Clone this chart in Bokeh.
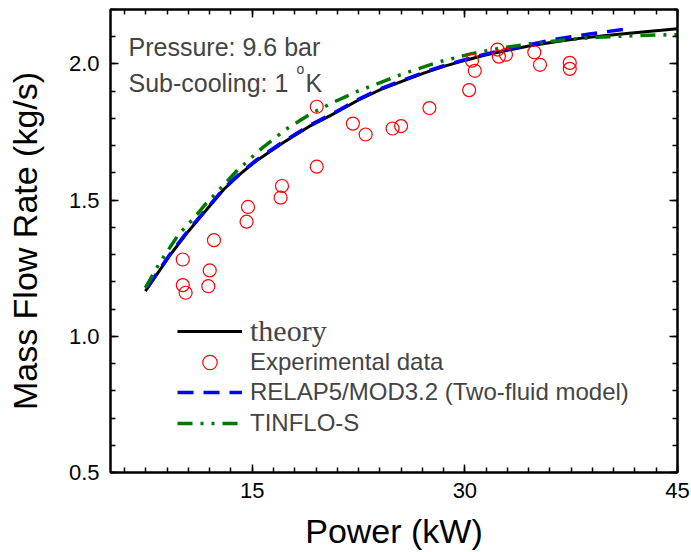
from bokeh.plotting import figure
from bokeh.models import (Range1d, LinearAxis, FixedTicker, Legend, LegendItem, Label,
                          PrintfTickFormatter)
from bokeh.embed import file_html
from bokeh.resources import INLINE

# ---- data ----
theory_x = [7.46, 8.2, 9.3, 10.5, 11.7, 13.0, 14.2, 15.3, 17.2, 19.1, 20.7, 22.4, 24.0, 25.7,
            27.2, 28.7, 30.0, 31.3, 33.0, 34.6, 36.3, 38.1, 39.8, 41.6, 43.3, 45.0]
theory_y = [1.166, 1.222, 1.305, 1.386, 1.460, 1.540, 1.598, 1.645, 1.712, 1.773, 1.816, 1.865,
            1.905, 1.939, 1.968, 1.994, 2.013, 2.031, 2.050, 2.067, 2.081, 2.094, 2.104, 2.113,
            2.121, 2.129]

relap_x = [7.6, 8.2, 9.3, 10.5, 11.7, 13.0, 14.2, 15.3, 17.2, 19.1, 20.7, 22.4, 24.0, 25.7,
           27.2, 28.7, 30.0, 31.3, 33.0, 34.6, 36.5, 38.8, 41.6]
relap_y = [1.180, 1.226, 1.309, 1.390, 1.463, 1.543, 1.601, 1.648, 1.715, 1.776, 1.819, 1.868,
           1.908, 1.942, 1.971, 1.997, 2.016, 2.034, 2.054, 2.072, 2.092, 2.110, 2.130]

tinflo_x = [7.46, 8.4, 9.8, 10.9, 11.7, 12.6, 13.9, 15.6, 17.4, 19.1, 20.7, 22.4, 25.7, 28.0,
            30.4, 32.5, 34.6, 37.0, 39.3, 42.0, 45.0]
tinflo_y = [1.178, 1.264, 1.374, 1.435, 1.485, 1.534, 1.607, 1.687, 1.761, 1.816, 1.859, 1.899,
            1.965, 2.005, 2.037, 2.058, 2.074, 2.088, 2.098, 2.104, 2.108]

exp_x = [10.1, 10.1, 10.3, 11.9, 12.0, 12.3, 14.6, 14.7, 17.0, 17.1, 19.55, 19.55,
         22.1, 23.0, 24.9, 25.5, 27.5, 30.3, 30.5, 30.7, 32.3, 32.4, 32.9, 34.9, 35.3, 37.4, 37.4]
exp_y = [1.282, 1.188, 1.160, 1.184, 1.242, 1.353, 1.421, 1.475, 1.509, 1.552, 1.623, 1.843,
         1.781, 1.741, 1.763, 1.772, 1.838, 1.904, 2.012, 1.975, 2.053, 2.027, 2.034, 2.043, 1.997,
         2.004, 1.982]

x_major = [15, 30, 45]
y_major = [0.5, 1.0, 1.5, 2.0]
x_minor = [i * 1.5 for i in range(3, 31)]
y_minor = [round(0.5 + i * 0.1, 2) for i in range(0, 18)]

SANS = "Liberation Sans"
SERIF = "Liberation Serif"

p = figure(width=691, height=552, output_backend="svg", toolbar_location=None,
           x_range=Range1d(5, 45), y_range=Range1d(0.5, 2.2),
           min_border_left=110, min_border_right=14, min_border_top=9, min_border_bottom=80,
           background_fill_color="white", border_fill_color="white")
p.grid.visible = False
p.outline_line_color = "black"
p.outline_line_width = 2


def style_axis(ax, labels=True):
    ax.axis_line_width = 2
    ax.axis_line_color = "black"
    ax.major_tick_in = 8
    ax.major_tick_out = 0
    ax.minor_tick_in = 5
    ax.minor_tick_out = 0
    ax.major_tick_line_width = 1.5
    ax.minor_tick_line_width = 1.5
    ax.major_label_text_font = SANS
    ax.major_label_text_font_size = "22px"
    ax.major_label_text_color = "black"
    ax.axis_label_text_font = SANS
    ax.axis_label_text_font_style = "normal"
    ax.axis_label_text_color = "black"
    if not labels:
        ax.major_label_text_font_size = "0px"
        ax.major_label_text_alpha = 0


p.xaxis.ticker = FixedTicker(ticks=x_major, minor_ticks=x_minor)
p.yaxis.ticker = FixedTicker(ticks=y_major, minor_ticks=y_minor)
style_axis(p.xaxis[0])
style_axis(p.yaxis[0])
p.xaxis[0].axis_label = "Power (kW)"
p.xaxis[0].axis_label_text_font_size = "34px"
p.xaxis[0].major_label_standoff = 10
p.xaxis[0].axis_label_standoff = 11
p.yaxis[0].axis_label = "Mass Flow Rate (kg/s)"
p.yaxis[0].axis_label_text_font_size = "34px"
p.yaxis[0].major_label_standoff = 11
p.yaxis[0].axis_label_standoff = 22
p.yaxis[0].formatter = PrintfTickFormatter(format="%.1f")

top = LinearAxis(ticker=FixedTicker(ticks=x_major, minor_ticks=x_minor))
style_axis(top, labels=False)
p.add_layout(top, "above")
right = LinearAxis(ticker=FixedTicker(ticks=y_major, minor_ticks=y_minor))
style_axis(right, labels=False)
p.add_layout(right, "right")

r_theory = p.line(theory_x, theory_y, line_color="black", line_width=3)
r_relap = p.line(relap_x, relap_y, line_color="#0000ff", line_width=3.5, line_dash="16 10")
r_tinflo = p.line(tinflo_x, tinflo_y, line_color="#007700", line_width=3.5,
                  line_dash="15 8 3 8 3 8")
r_exp = p.scatter(exp_x, exp_y, marker="circle", size=13, fill_alpha=0,
                  line_color="#ff0000", line_width=1.2)


def one_legend(label, rend, y, font, size):
    return Legend(items=[LegendItem(label=label, renderers=[rend])],
                  location=(67, y), padding=0, margin=0, spacing=0,
                  glyph_width=65, glyph_height=36, label_height=36, label_standoff=8,
                  label_text_font=font, label_text_font_size=size,
                  border_line_alpha=0, background_fill_alpha=0)


p.add_layout(one_legend("theory", r_theory, 123, SERIF, "30px"), "center")
p.add_layout(one_legend("Experimental data", r_exp, 92, SANS, "24px"), "center")
p.add_layout(one_legend("RELAP5/MOD3.2 (Two-fluid model)", r_relap, 62, SANS, "24px"), "center")
p.add_layout(one_legend("TINFLO-S", r_tinflo, 31, SANS, "24px"), "center")

p.add_layout(Label(x=18, y=426, x_units="screen", y_units="screen", text="Pressure: 9.6 bar",
                   text_font=SANS, text_font_size="25px", text_baseline="alphabetic"))
p.add_layout(Label(x=18, y=390, x_units="screen", y_units="screen", text="Sub-cooling: 1",
                   text_font=SANS, text_font_size="25px", text_baseline="alphabetic"))
p.add_layout(Label(x=186, y=404, x_units="screen", y_units="screen", text="o",
                   text_font=SANS, text_font_size="14px", text_baseline="alphabetic"))
p.add_layout(Label(x=195, y=390, x_units="screen", y_units="screen", text="K",
                   text_font=SANS, text_font_size="25px", text_baseline="alphabetic"))

open("out.html", "w").write(file_html(p, INLINE))
